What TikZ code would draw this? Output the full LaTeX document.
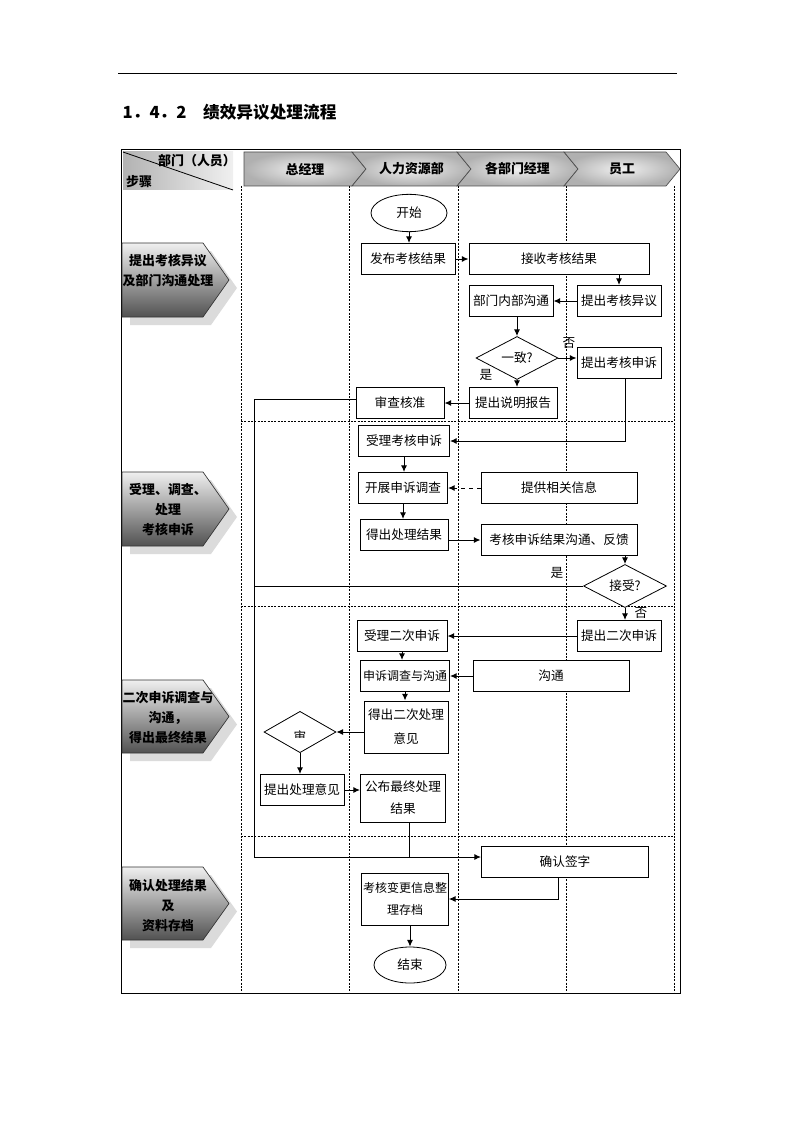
\documentclass[tikz,border=0pt]{standalone}
\usepackage{fontspec}
\setmainfont{Noto Sans CJK SC}
\usetikzlibrary{shapes.geometric,arrows.meta,shadings}

\begin{document}
\begin{tikzpicture}[
        x=0.75pt, y=-0.75pt,
        every node/.style={font=\fontsize{9.5}{12}\selectfont},
        box/.style={draw, fill=white, line width=0.75pt, inner sep=1pt, align=center, minimum height=23.25pt},
        bw/.style={minimum width=#1*0.75pt},
        bh/.style={minimum height=#1*0.75pt},
        term/.style={ellipse, draw, fill=white, line width=0.6pt, minimum width=57pt, minimum height=28pt},
        decide/.style={diamond, draw, fill=white, line width=0.6pt, inner sep=0pt, minimum width=61.5pt, minimum height=31.5pt},
        arrow/.style={-{Latex[length=5pt,width=4.5pt]}, line width=0.75pt},
        link/.style={line width=0.75pt},
        lane/.style={line width=0.6pt, dash pattern=on 1.5pt off 1pt},
        lanehead/.style={draw=black!70, line width=0.5pt, inner color=gray!12, outer color=gray!62},
        phasebox/.style={draw=black!80, line width=0.5pt, top color=gray!12, bottom color=black!68},
        headtext/.style={font=\bfseries\fontsize{9.7}{12}\selectfont},
        phase/.style={font=\bfseries\fontsize{9.7}{15}\selectfont, align=center}
    ]
        \useasboundingbox (0,0) rectangle (794,1123);

        % page rule and title
        \draw[line width=0.75pt] (118,74) -- (677,74);
        \node[anchor=west, font=\bfseries\fontsize{12.5}{15}\selectfont] (title) at (118,112) {1．4．2　绩效异议处理流程};

        % frame and header
        \draw[line width=0.75pt] (121,150) rectangle (680,993);
        \shade[left color=gray!60, right color=gray!12] (123,152) rectangle (233,190);
        \draw[line width=0.6pt] (123,152) -- (233,190);
        \node[headtext] (deptlbl) at (197,161) {部门（人员）};
        \node[headtext] (steplbl) at (139,182) {步骤};

        \foreach \xa/\xb/\nd/\name/\txt in {244/352/0/gm/总经理, 352/457/14/hr/人力资源部, 457/564/14/dm/各部门经理, 564/666/14/emp/员工} {
            \shadedraw[lanehead] (\xa,152) -- (\xb,152) -- ({\xb+14},169) -- (\xb,186) -- (\xa,186) -- ({\xa+\nd},169) -- cycle;
            \node[headtext] (\name) at ({(\xa+\xb)/2+7},169) {\txt};
        }

        % lanes and phase dividers
        \foreach \x in {241,349,458,566,674}
            \draw[lane] (\x,186) -- (\x,993);
        \foreach \y in {421,606,836}
            \draw[lane] (241,\y) -- (674,\y);

        % phase labels
        \foreach \ya/\yb/\yt/\txt in {243/317/271/{提出考核异议\\及部门沟通处理}, 472/546/510/{受理、调查、\\处理\\考核申诉}, 680/753/718/{二次申诉调查与\\沟通，\\得出最终结果}, 867/940/906/{确认处理结果\\及\\资料存档}} {
            \fill[gray!28] (130,{\ya+8}) -- (211,{\ya+8}) -- (237,{(\ya+\yb)/2+8}) -- (211,{\yb+8}) -- (130,{\yb+8}) -- cycle;
            \shadedraw[phasebox] (122,\ya) -- (203,\ya) -- (229,{(\ya+\yb)/2}) -- (203,\yb) -- (122,\yb) -- cycle;
            \node[phase] (phase\ya) at (168,\yt) {\txt};
        }

        % steps
        \node[term] (start) at (409,213) {开始};
        \node[box, bw=94] (fabu) at (408,259) {发布考核结果};
        \node[box, bw=180] (jieshou) at (559,259) {接收考核结果};
        \node[box, bw=84] (tiyi) at (619,301) {提出考核异议};
        \node[box, bw=84] (goutong) at (511,301) {部门内部沟通};
        \node[decide] (yizhi) at (517,358) {一致?};
        \node[box, bw=84] (shensu) at (619,363) {提出考核申诉};
        \node[box, bw=88] (baogao) at (513,403) {提出说明报告};
        \node[box, bw=88] (shencha) at (400,403) {审查核准};
        \node[box, bw=91] (shouli) at (404,441) {受理考核申诉};
        \node[box, bw=89] (diaocha) at (403,488) {开展申诉调查};
        \node[box, bw=156] (xinxi) at (559,488) {提供相关信息};
        \node[box, bw=88] (jieguo) at (404,535) {得出处理结果};
        \node[box, bw=156] (fankui) at (559,540) {考核申诉结果沟通、反馈};
        \node[decide, minimum width=62.25pt, minimum height=30pt] (accept) at (625,586) {接受?};
        \node[box, bw=84] (ercisu) at (619,636) {提出二次申诉};
        \node[box, bw=90] (shouli2) at (402,636) {受理二次申诉};
        \node[box, bw=89, font=\fontsize{9}{12}\selectfont] (diaocha2) at (405,676) {申诉调查与沟通};
        \node[box, bw=156] (goutong2) at (551,676) {沟通};
        \node[box, bw=84, bh=52, font=\fontsize{9.5}{18}\selectfont] (yijian2) at (406,727) {得出二次处理\\意见};
        \node[decide, minimum width=54pt, minimum height=31pt] (shenpi) at (300,732) {};
        \node[box, bw=84] (tichu) at (302,790) {提出处理意见};
        \node[box, bw=85, bh=48, font=\fontsize{9.5}{16.5}\selectfont] (gongbu) at (403,798) {公布最终处理\\结果};
        \node[box, bw=167] (queren) at (565,862) {确认签字};
        \node[box, bw=86, bh=52, font=\fontsize{9}{17}\selectfont] (guidang) at (405,899) {考核变更信息整\\理存档};
        \node[term, minimum width=54pt, minimum height=27pt] (end) at (410,965) {结束};

        % clipped text in the left decision
        \begin{scope}
            \clip (290,730) rectangle (310,737);
            \node (shenzi) at (300,737) {审};
        \end{scope}

        % branch labels
        \node (no1) at (569,343) {否};
        \node (yes1) at (486,375) {是};
        \node (yes2) at (557,573) {是};
        \node (no2) at (641,613) {否};

        % connectors
        \coordinate (back) at (254,857);
        \draw[arrow] (start.south) -- (start.south |- fabu.north);
        \draw[arrow] (fabu) -- (jieshou);
        \draw[arrow] (jieshou.south -| tiyi.north) -- (tiyi.north);
        \draw[arrow] (tiyi) -- (goutong);
        \draw[arrow] (goutong.south -| yizhi.north) -- (yizhi.north);
        \draw[arrow] (yizhi.east) -- (yizhi.east -| shensu.west);
        \draw[arrow] (yizhi.south) -- (yizhi.south |- baogao.north);
        \draw[arrow] (baogao) -- (shencha);
        \draw[arrow] ([xshift=5pt]shensu.south) |- (shouli.east);
        \draw[arrow] (shouli.south) -- (shouli.south |- diaocha.north);
        \draw[arrow, dashed] (xinxi) -- (diaocha);
        \draw[arrow] (diaocha.south) -- (diaocha.south |- jieguo.north);
        \draw[arrow] (jieguo.east |- fankui.west) -- (fankui.west);
        \draw[arrow] (fankui.south -| accept.north) -- (accept.north);
        \draw[link] (accept.west) -- (accept.west -| back);
        \draw[arrow] (accept.south) -- (accept.south |- ercisu.north);
        \draw[arrow] (ercisu) -- (shouli2);
        \draw[arrow] (shouli2.south) -- (shouli2.south |- diaocha2.north);
        \draw[arrow] (goutong2) -- (diaocha2);
        \draw[arrow] (diaocha2.south) -- (diaocha2.south |- yijian2.north);
        \draw[arrow] (yijian2.west |- shenpi.east) -- (shenpi.east);
        \draw[arrow] (shenpi.south) -- (shenpi.south |- tichu.north);
        \draw[arrow] (tichu.east) -- (tichu.east -| gongbu.west);
        \draw[arrow] ([yshift=3pt]shencha.west) -| (back) -- (back -| queren.west);
        \draw[link] ([xshift=5pt]gongbu.south) -- ([xshift=5pt]gongbu.south |- back);
        \draw[arrow] ([xshift=-5pt]queren.south) |- (guidang.east);
        \draw[arrow] (end.north |- guidang.south) -- (end.north);
    \end{tikzpicture}
\end{document}
